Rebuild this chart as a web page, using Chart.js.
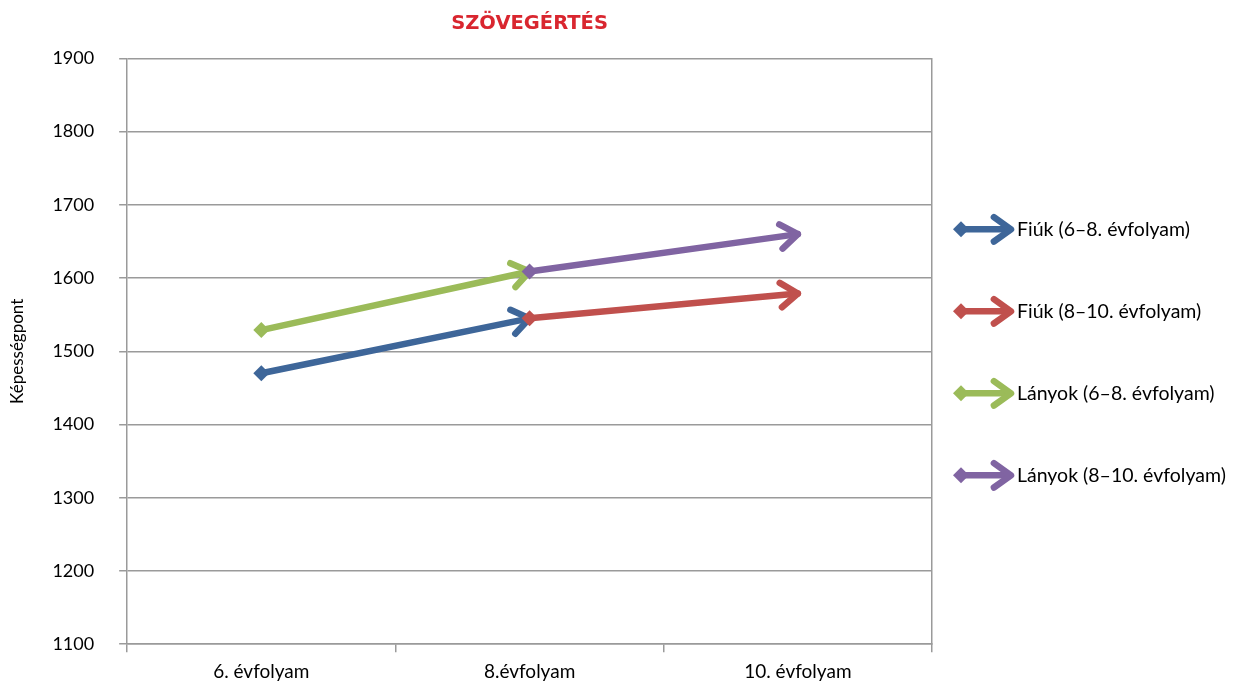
<!DOCTYPE html>
<html>
<head>
<meta charset="utf-8">
<script src="https://cdn.jsdelivr.net/npm/chart.js@4.4.0/dist/chart.umd.min.js"></script>
<style>
  html, body { margin: 0; padding: 0; background: #fff; }
  #wrap { width: 1240px; height: 684px; }
</style>
</head>
<body>
<div id="wrap"><canvas id="myChart"></canvas></div>
<script>
var categories = ['6. évfolyam', '8.évfolyam', '10. évfolyam'];
var fiuk68 = [1470, 1545, null];
var fiuk810 = [null, 1545, 1579];
var lanyok68 = [1529, 1609, null];
var lanyok810 = [null, 1609, 1660];
var yMin = 1100, yMax = 1900, yStep = 100;

var gray = '#9a9a9a';
var family = 'Lato, "DejaVu Sans", sans-serif';
Chart.defaults.font.family = family;
Chart.defaults.color = '#000';

// arrowhead: open V with round caps, tip at (x, y)
function drawHead(ctx, x, y, angle, color) {
    var len = 21, spread = 0.62;
    ctx.save();
    ctx.strokeStyle = color;
    ctx.lineWidth = 6.5;
    ctx.lineCap = 'round';
    ctx.lineJoin = 'round';
    ctx.beginPath();
    ctx.moveTo(x - len * Math.cos(angle - spread), y - len * Math.sin(angle - spread));
    ctx.lineTo(x, y);
    ctx.lineTo(x - len * Math.cos(angle + spread), y - len * Math.sin(angle + spread));
    ctx.stroke();
    ctx.restore();
}

var arrowPlugin = {
    id: 'arrows',
    afterDatasetDraw: function(chart, args) {
        var ds = chart.data.datasets[args.index];
        var pts = args.meta.data.filter(function(p, i) { return ds.data[i] != null; });
        if (pts.length < 2) return;
        var a = pts[pts.length - 2], b = pts[pts.length - 1];
        drawHead(chart.ctx, b.x, b.y, Math.atan2(b.y - a.y, b.x - a.x), ds.borderColor);
    }
};

var legendPlugin = {
    id: 'sideLegend',
    afterDraw: function(chart) {
        var ctx = chart.ctx, area = chart.chartArea;
        var x0 = area.right + 21, x1 = x0 + 58;
        var mid = (area.top + area.bottom) / 2 + 1;
        var gap = 82;
        chart.data.datasets.forEach(function(ds, i) {
            var y = mid + (i - 1.5) * gap;
            ctx.save();
            ctx.strokeStyle = ds.borderColor;
            ctx.fillStyle = ds.borderColor;
            ctx.lineWidth = 6.5;
            ctx.beginPath();
            ctx.moveTo(x0 + 6, y);
            ctx.lineTo(x1 - 3, y);
            ctx.stroke();
            ctx.beginPath();
            ctx.moveTo(x0, y);
            ctx.lineTo(x0 + 8, y - 8);
            ctx.lineTo(x0 + 16, y);
            ctx.lineTo(x0 + 8, y + 8);
            ctx.closePath();
            ctx.fill();
            ctx.restore();
            drawHead(ctx, x1, y, 0, ds.borderColor);
            ctx.save();
            ctx.fillStyle = '#000';
            ctx.font = '19.5px ' + family;
            ctx.textBaseline = 'middle';
            ctx.fillText(ds.label, x1 + 6, y);
            ctx.restore();
        });
    }
};

function firstRadius(ctx) {
    var d = ctx.dataset.data;
    var first = d.findIndex(function(v) { return v != null; });
    return ctx.dataIndex === first ? 8 : 0;
}

function series(label, data, color, order) {
    return {
        label: label,
        data: data,
        borderColor: color,
        backgroundColor: color,
        borderWidth: 6.5,
        borderCapStyle: 'round',
        pointStyle: 'rectRot',
        pointRadius: firstRadius,
        pointHoverRadius: firstRadius,
        pointBorderWidth: 0,
        spanGaps: false,
        order: order
    };
}

var ctx = document.getElementById('myChart').getContext('2d');
var myChart = new Chart(ctx, {
    type: 'line',
    data: {
        labels: categories,
        datasets: [
            series('Fiúk (6–8. évfolyam)', fiuk68, '#3e6699', 4),
            series('Fiúk (8–10. évfolyam)', fiuk810, '#c0504d', 3),
            series('Lányok (6–8. évfolyam)', lanyok68, '#9bbb59', 2),
            series('Lányok (8–10. évfolyam)', lanyok810, '#8064a2', 1)
        ]
    },
    options: {
        responsive: true,
        maintainAspectRatio: false,
        animation: false,
        layout: {
            padding: { left: 0, right: 308, top: 0, bottom: -7 }
        },
        plugins: {
            legend: { display: false },
            tooltip: { enabled: false },
            title: {
                display: true,
                fullSize: false,
                text: 'SZÖVEGÉRTÉS',
                color: '#d9262f',
                font: { size: 19.5, weight: 'bold', family: '"DejaVu Sans", sans-serif' },
                padding: { top: 12, bottom: 23 }
            }
        },
        scales: {
            x: {
                offset: true,
                grid: {
                    offset: true,
                    drawOnChartArea: false,
                    color: gray,
                    lineWidth: 1.5,
                    tickLength: 8
                },
                border: { color: gray, width: 1.5 },
                ticks: { font: { size: 19 }, padding: 8 }
            },
            y: {
                min: yMin,
                max: yMax,
                grid: { color: gray, lineWidth: 1.5, tickLength: 8 },
                border: { color: gray, width: 1.5 },
                ticks: {
                    stepSize: yStep,
                    font: { size: 18 },
                    padding: 25,
                    callback: function(v) { return String(v); }
                },
                title: {
                    display: true,
                    text: 'Képességpont',
                    font: { size: 17 },
                    padding: { top: 7, bottom: 0 }
                }
            },
            y2: {
                position: 'right',
                min: yMin,
                max: yMax,
                grid: { drawOnChartArea: false, drawTicks: false },
                border: { color: gray, width: 1.5 },
                ticks: { display: false }
            }
        }
    },
    plugins: [arrowPlugin, legendPlugin]
});
</script>
</body>
</html>
